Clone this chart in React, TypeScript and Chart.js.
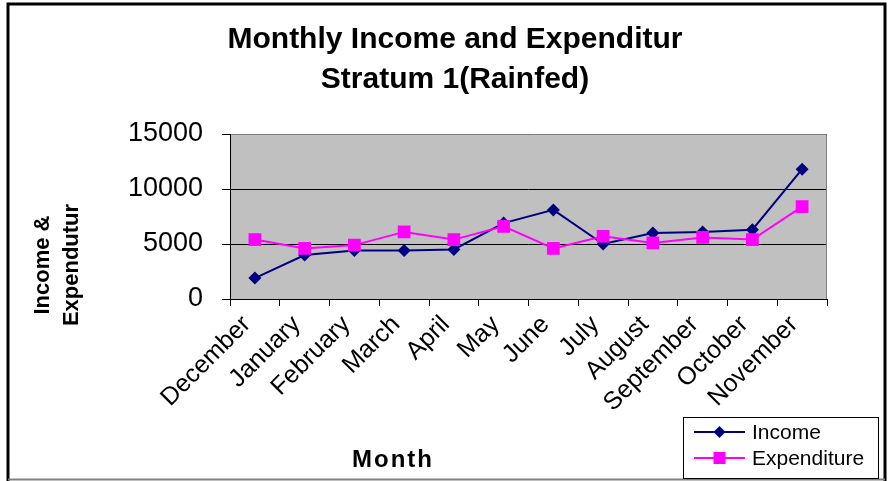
import React, { useEffect, useRef } from "react";
import { Chart, registerables } from "chart.js";

Chart.register(...registerables);

const months = [
  "December", "January", "February", "March", "April", "May",
  "June", "July", "August", "September", "October", "November",
];
const income = [1900, 4000, 4400, 4400, 4500, 6900, 8100, 5000, 6000, 6100, 6300, 11800];
const expenditure = [5400, 4600, 4900, 6100, 5400, 6600, 4600, 5700, 5100, 5600, 5400, 8400];
const yTicks = [0, 5000, 10000, 15000];
const titleLines = ["Monthly Income and Expenditur", "Stratum 1(Rainfed)"];
const yTitleLines = ["Income &", "Expendutur"];
const xTitle = "Month";
const seriesNames = ["Income", "Expenditure"];
const seriesColors = ["#000080", "#FF00FF"];

const FONT = '"Liberation Sans", Arial, Helvetica, sans-serif';

const decor = {
  id: "decor",
  beforeDraw(chart: any) {
    const { ctx, chartArea: a } = chart;
    ctx.save();
    ctx.fillStyle = "#ffffff";
    ctx.fillRect(0, 0, chart.width, chart.height);
    ctx.fillStyle = "#C0C0C0";
    ctx.fillRect(a.left, a.top, a.right - a.left, a.bottom - a.top);
    ctx.restore();
  },
  beforeDatasetsDraw(chart: any) {
    const { ctx, chartArea: a } = chart;
    ctx.save();
    ctx.lineWidth = 1;
    ctx.strokeStyle = "#808080";
    ctx.beginPath();
    ctx.moveTo(a.left, a.top + 0.5);
    ctx.lineTo(a.right - 0.5, a.top + 0.5);
    ctx.lineTo(a.right - 0.5, a.bottom);
    ctx.stroke();
    ctx.strokeStyle = "#000000";
    ctx.beginPath();
    ctx.moveTo(a.left + 0.5, a.top);
    ctx.lineTo(a.left + 0.5, a.bottom + 0.5);
    ctx.lineTo(a.right, a.bottom + 0.5);
    ctx.stroke();
    ctx.restore();
  },
  afterDraw(chart: any) {
    const { ctx } = chart;
    ctx.save();
    // outer frame
    ctx.strokeStyle = "#000000";
    ctx.lineWidth = 3;
    ctx.beginPath();
    ctx.moveTo(8, 481);
    ctx.lineTo(8, 4);
    ctx.lineTo(885, 4);
    ctx.lineTo(885, 481);
    ctx.stroke();
    ctx.strokeStyle = "#808080";
    ctx.lineWidth = 2;
    ctx.beginPath();
    ctx.moveTo(8, 479.5);
    ctx.lineTo(885, 479.5);
    ctx.stroke();

    // title
    ctx.fillStyle = "#000000";
    ctx.font = `bold 30px ${FONT}`;
    ctx.textAlign = "center";
    ctx.textBaseline = "alphabetic";
    ctx.fillText(titleLines[0], 455, 48);
    ctx.fillText(titleLines[1], 455, 88);

    // y axis title
    ctx.font = `bold 22px ${FONT}`;
    ctx.save();
    ctx.translate(49, 265);
    ctx.rotate(-Math.PI / 2);
    ctx.fillText(yTitleLines[0], 0, 0);
    ctx.restore();
    ctx.save();
    ctx.translate(78, 265);
    ctx.rotate(-Math.PI / 2);
    ctx.fillText(yTitleLines[1], 0, 0);
    ctx.restore();

    // x axis title
    ctx.font = `bold 24px ${FONT}`;
    (ctx as any).letterSpacing = "2px";
    ctx.fillText(xTitle, 393, 467);
    (ctx as any).letterSpacing = "0px";

    // legend
    const lx = 683, ly = 417, lw = 195, lh = 61;
    ctx.fillStyle = "#ffffff";
    ctx.fillRect(lx, ly, lw, lh);
    ctx.strokeStyle = "#000000";
    ctx.lineWidth = 1;
    ctx.strokeRect(lx + 0.5, ly + 0.5, lw, lh);
    const rows = [432, 458];
    chart.data.datasets.forEach((ds: any, i: number) => {
      const y = rows[i];
      ctx.strokeStyle = ds.borderColor;
      ctx.lineWidth = 2;
      ctx.beginPath();
      ctx.moveTo(694, y);
      ctx.lineTo(745, y);
      ctx.stroke();
      ctx.fillStyle = ds.borderColor;
      if (ds.pointStyle === "rectRot") {
        ctx.beginPath();
        ctx.moveTo(719.5, y - 6);
        ctx.lineTo(725.5, y);
        ctx.lineTo(719.5, y + 6);
        ctx.lineTo(713.5, y);
        ctx.closePath();
        ctx.fill();
      } else {
        ctx.fillRect(713.5, y - 6, 12, 12);
      }
      ctx.fillStyle = "#000000";
      ctx.font = `21px ${FONT}`;
      ctx.textAlign = "left";
      ctx.textBaseline = "middle";
      ctx.fillText(ds.label, 752, y + 1);
    });
    ctx.restore();
  },
};

export default function App() {
  const ref = useRef<HTMLCanvasElement>(null);
  useEffect(() => {
    if (!ref.current) return;
    Chart.defaults.font.family = FONT;
    const chart = new Chart(ref.current, {
      type: "line",
      data: {
        labels: months,
        datasets: [
          {
            label: seriesNames[0],
            data: income,
            borderColor: seriesColors[0],
            backgroundColor: seriesColors[0],
            pointBackgroundColor: seriesColors[0],
            pointBorderColor: seriesColors[0],
            pointStyle: "rectRot",
            pointRadius: 6.5,
            pointBorderWidth: 0,
            borderWidth: 2,
            tension: 0,
            order: 1,
          },
          {
            label: seriesNames[1],
            data: expenditure,
            borderColor: seriesColors[1],
            backgroundColor: seriesColors[1],
            pointBackgroundColor: seriesColors[1],
            pointBorderColor: seriesColors[1],
            pointStyle: "rect",
            pointRadius: 9,
            pointBorderWidth: 0,
            borderWidth: 2,
            tension: 0,
            order: 0,
          },
        ],
      },
      options: {
        responsive: false,
        animation: false,
        layout: { padding: { top: 134, right: 62, left: 0, bottom: 0 } },
        plugins: {
          legend: { display: false },
          title: { display: false },
          tooltip: { enabled: false },
        },
        scales: {
          x: {
            offset: true,
            afterFit: (s: any) => { s.height = 182; },
            grid: {
              display: true,
              drawOnChartArea: false,
              drawTicks: true,
              tickLength: 7,
              offset: true,
              color: "#000000",
              tickColor: "#000000",
            },
            border: { display: false },
            ticks: {
              autoSkip: false,
              minRotation: 45,
              maxRotation: 45,
              padding: 4,
              labelOffset: -8,
              color: "#000000",
              font: { size: 25, family: FONT },
            },
          },
          y: {
            min: 0,
            max: 15000,
            afterFit: (s: any) => { s.width = 230; },
            afterBuildTicks: (s: any) => { s.ticks = yTicks.map((v) => ({ value: v })); },
            grid: {
              color: "#000000",
              tickColor: "#000000",
              tickLength: 8,
              drawTicks: true,
            },
            border: { display: false },
            ticks: {
              padding: 19,
              color: "#000000",
              font: { size: 27, family: FONT },
              callback: (v: any) => String(v),
            },
          },
        },
      },
      plugins: [decor],
    });
    return () => chart.destroy();
  }, []);
  return (
    <div style={{ position: "absolute", left: 0, top: 0, width: 889, height: 481 }}>
      <canvas ref={ref} width={889} height={481} style={{ width: 889, height: 481, display: "block" }} />
    </div>
  );
}
